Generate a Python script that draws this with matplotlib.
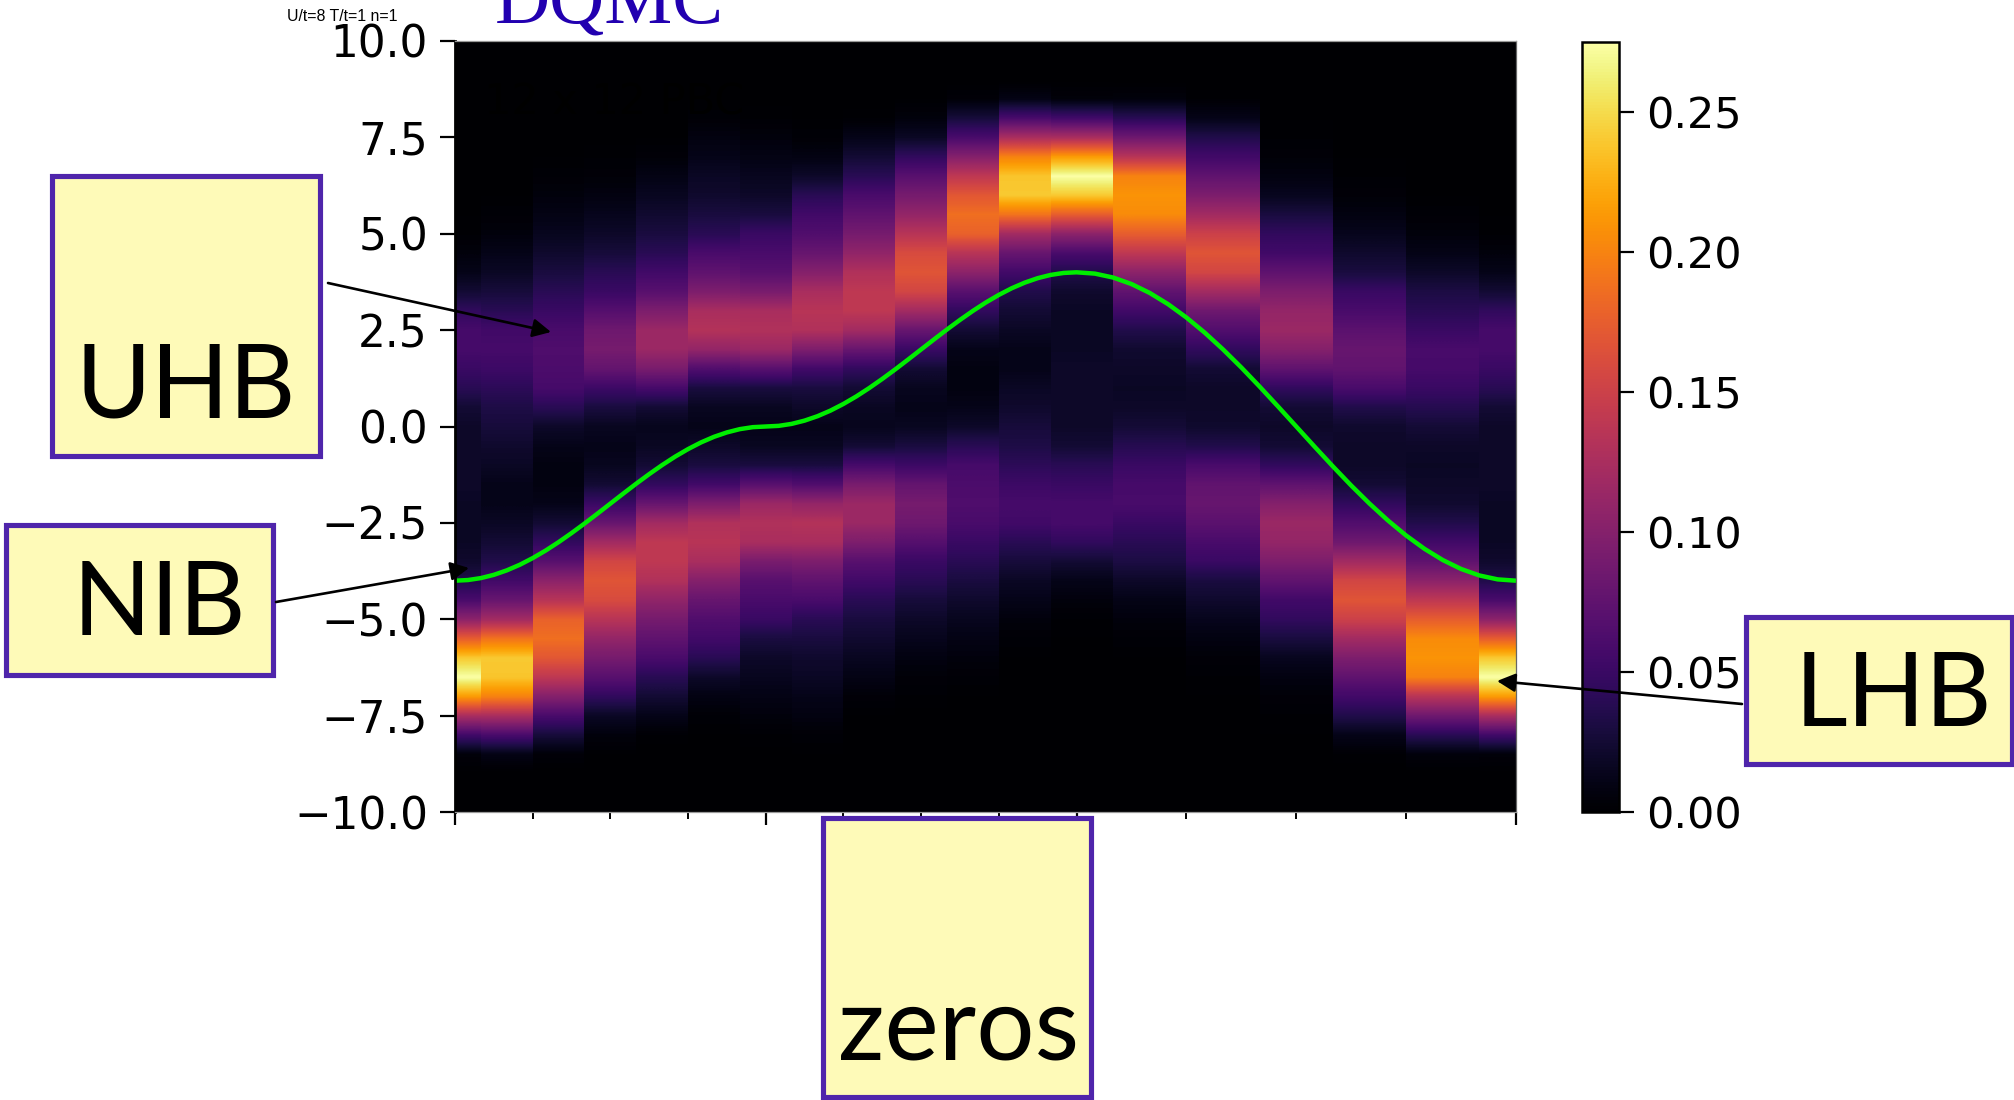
import numpy as np
import matplotlib
matplotlib.use("Agg")
import matplotlib.pyplot as plt
from matplotlib.patches import Rectangle
from matplotlib.colors import Normalize
from matplotlib.cm import ScalarMappable

# energy rows: -10 ... 10 in steps of 0.5 (41 rows), read per momentum column
omega = [-10.0 + 0.5 * i for i in range(41)]
c0 = [0,0,.0005,.005,.055,.125,.215,.275,.24,.175,.105,.06,.035,.022,.018,.018,.018,.02,.02,.02,.02,.025,.04,.05,.058,.058,.045,.025,.012,.006,.002,.001,0,0,0,0,0,0,0,0,0]
c1 = [0,0,0,.01,.06,.125,.2,.238,.24,.19,.12,.08,.055,.035,.025,.018,.012,.012,.018,.022,.028,.033,.042,.052,.058,.055,.04,.028,.018,.012,.006,.003,.001,0,0,0,0,0,0,0,0]
c2 = [0,0,0,.004,.028,.06,.1,.14,.17,.187,.178,.135,.105,.07,.045,.025,.012,.008,.008,.012,.02,.04,.058,.062,.064,.06,.05,.04,.03,.022,.015,.01,.006,.003,.001,0,0,0,0,0,0]
c3 = [0,0,0,.001,.006,.018,.045,.07,.09,.11,.135,.16,.168,.155,.12,.08,.05,.025,.015,.012,.016,.03,.052,.078,.09,.085,.068,.05,.04,.028,.02,.014,.008,.004,.002,.0005,0,0,0,0,0]
c4 = [0,0,0,0,.002,.012,.025,.04,.06,.075,.09,.108,.13,.14,.14,.12,.08,.045,.025,.017,.014,.025,.058,.092,.115,.115,.095,.07,.055,.04,.03,.023,.016,.01,.004,.001,0,0,0,0,0]
c5 = [0,0,0,0,.001,.003,.009,.02,.04,.055,.065,.08,.1,.125,.135,.13,.095,.055,.03,.02,.012,.016,.03,.065,.11,.132,.125,.095,.075,.06,.04,.03,.022,.018,.012,.008,.003,.001,0,0,0]
c6 = [0,0,0,.0005,.002,.006,.01,.015,.02,.03,.05,.06,.07,.092,.125,.13,.115,.07,.03,.016,.012,.016,.03,.07,.115,.13,.125,.092,.07,.06,.05,.03,.02,.015,.01,.006,.002,.0005,0,0,0]
c7 = c5[::-1]
c8 = c4[::-1]
c9 = c3[::-1]
c10 = c2[::-1]
c11 = c1[::-1]
c12 = c0[::-1]
c13 = [0,0,0,0,0,0,0,.0005,.001,.003,.006,.011,.02,.032,.04,.05,.06,.058,.05,.038,.026,.02,.018,.02,.023,.035,.055,.075,.105,.14,.175,.205,.21,.2,.135,.085,.04,.006,0,0,0]
c14 = [0,0,0,0,0,.0005,.001,.002,.004,.008,.014,.022,.03,.05,.06,.072,.08,.076,.06,.035,.022,.02,.02,.025,.045,.065,.085,.12,.155,.168,.15,.12,.095,.075,.055,.035,.012,.002,0,0,0]
c15 = [0,0,0,0,.001,.002,.004,.008,.015,.03,.045,.055,.075,.095,.11,.115,.1,.075,.045,.025,.02,.025,.045,.075,.1,.115,.11,.095,.075,.055,.045,.03,.015,.008,.004,.002,.001,0,0,0,0]
c16 = c14[::-1]
c17 = c13[::-1]
c18 = c0
columns = [c0,c1,c2,c3,c4,c5,c6,c7,c8,c9,c10,c11,c12,c13,c14,c15,c16,c17,c18]

# momentum positions along Gamma-X-M-Gamma on the 12x12 lattice
k_centres = [0,1,2,3,4,5,6,7,8,9,10,11,12,13.414,14.828,16.243,17.657,19.071,20.485]
k_major = [0,6,12,20.485]
k_minor = [1.5,3,4.5,7.5,9,10.5,14.121,16.243,18.364]

# non-interacting band read along the path
band_e1 = [-4,-3.983,-3.932,-3.848,-3.732,-3.587,-3.414,-3.218,-3,-2.765,-2.518,-2.261,-2,-1.739,-1.482,-1.235,-1,-.782,-.586,-.413,-.268,-.153,-.068,-.017,0]
band_e2 = [.017,.068,.153,.268,.413,.586,.782,1,1.235,1.482,1.739,2,2.261,2.518,2.765,3,3.218,3.414,3.587,3.732,3.848,3.932,3.983,4]
band_e3 = [3.966,3.864,3.696,3.464,3.173,2.828,2.435,2,1.531,1.035,.522,0,-.522,-1.035,-1.531,-2,-2.435,-2.828,-3.173,-3.464,-3.696,-3.864,-3.966,-4]

y_ticks = [-10,-7.5,-5,-2.5,0,2.5,5,7.5,10]
cbar_ticks = [0,.05,.10,.15,.20,.25]
vmax = 0.275

W, H = 2015, 1100
fig = plt.figure(figsize=(W/100, H/100), dpi=100, facecolor='white')
ax = fig.add_axes([455/W, 1-812/H, (1516-455)/W, (812-41)/H], facecolor='black')

norm = Normalize(0, vmax)
cent = np.array(k_centres, float)
edges = np.concatenate([[cent[0]], (cent[1:]+cent[:-1])/2, [cent[-1]]])
for i, col in enumerate(columns):
    v = np.array(col, float).reshape(-1, 1)
    ax.imshow(v, origin='lower', aspect='auto', cmap='inferno', norm=norm,
              extent=[edges[i], edges[i+1], omega[0]-0.25, omega[-1]+0.25],
              interpolation='bilinear', interpolation_stage='data')

band_k = np.concatenate([np.arange(25)*0.25, 6+np.arange(1, 25)*0.25, 12+np.arange(1, 25)*(8.485/24)])
band_e = band_e1 + band_e2 + band_e3
ax.plot(band_k, band_e, color='#00ee00', lw=3.2, solid_capstyle='butt')
ax.set_xlim(0, 20.485)
ax.set_ylim(-10, 10)
ax.set_xticks(k_major)
ax.set_xticks(k_minor, minor=True)
ax.set_xticklabels([])
ax.set_yticks(y_ticks)
ax.tick_params(axis='y', length=10.5, width=1.6, labelsize=31.5, pad=9)
ax.tick_params(axis='x', which='major', length=9.4, width=1.6)
ax.tick_params(axis='x', which='minor', length=5, width=1.4)
ax.spines['left'].set_linewidth(2.0)
for s, c in (('top', '#999999'), ('bottom', '#999999'), ('right', '#666666')):
    ax.spines[s].set_linewidth(0.9)
    ax.spines[s].set_color(c)
ax.text(0.027, 0.905, '12 x 12 PBC', transform=ax.transAxes, color='black', fontsize=31, va='baseline', ha='left')

cax = fig.add_axes([1582/W, 1-812/H, (1619-1582)/W, (812-42)/H])
cb = fig.colorbar(ScalarMappable(norm=norm, cmap='inferno'), cax=cax)
cb.set_ticks(cbar_ticks)
cb.set_ticklabels(['0.00', '0.05', '0.10', '0.15', '0.20', '0.25'])
cax.tick_params(length=10.5, width=1.6, labelsize=31, pad=9)
cb.outline.set_linewidth(1.8)

ov = fig.add_axes([0, 0, 1, 1], facecolor='none', zorder=5)
ov.set_xlim(0, W)
ov.set_ylim(H, 0)
ov.axis('off')

boxes = [('UHB', 52, 176, 320, 456, 76, 417),
         ('NIB', 6, 525, 273, 675, 73, 635),
         ('LHB', 1746, 617, 2012, 764, 1795, 726),
         ('zeros', 823, 818, 1091, 1097, 838, 1059)]
for label, x0, y0, x1, y1, tx, ty in boxes:
    ov.add_patch(Rectangle((x0, y0), x1-x0, y1-y0, fc='#fefab8', ec='#4f25ab', lw=3.7, clip_on=False))
    ov.text(tx, ty, label, fontfamily='Lato', fontsize=74, color='black', ha='left', va='baseline')

arrows = [((328, 283), (551, 332)), ((276, 602), (469, 568)), ((1742, 704), (1497, 681))]
for start, end in arrows:
    ov.annotate('', xy=end, xytext=start, xycoords='data', textcoords='data',
                arrowprops=dict(arrowstyle='-|>,head_length=0.55,head_width=0.28', color='black', lw=1.9,
                                mutation_scale=20, shrinkA=0, shrinkB=0))

ov.text(287, 21, 'U/t=8 T/t=1 n=1', fontfamily='Liberation Sans', fontsize=11.4, color='black', ha='left', va='baseline')
ov.text(495, 24, 'DQMC', fontfamily='Liberation Serif', fontsize=55, color='#2200b0', ha='left', va='baseline')

fig.savefig('out.png', dpi=100)
